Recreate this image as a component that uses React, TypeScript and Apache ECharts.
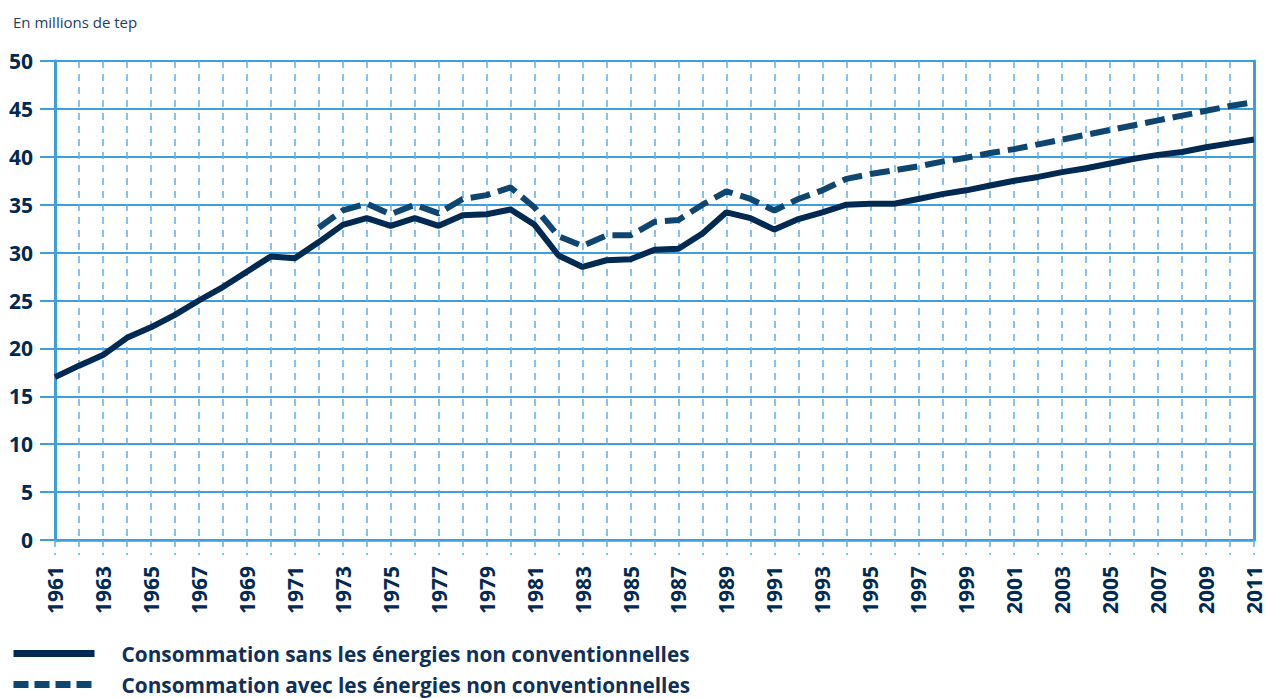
import React, { useEffect, useRef } from "react";
import * as echarts from "echarts";

const years: string[] = [];
for (let y = 1961; y <= 2011; y++) years.push(String(y));

const sansNC: number[] = [
  17.0, 18.2, 19.3, 21.1, 22.2, 23.5, 25.0, 26.4, 28.0, 29.6,
  29.4, 31.1, 32.9, 33.6, 32.8, 33.6, 32.8, 33.9, 34.0, 34.5,
  32.9, 29.7, 28.5, 29.2, 29.3, 30.3, 30.4, 32.0, 34.2, 33.6,
  32.4, 33.5, 34.2, 35.0, 35.1, 35.1, 35.6, 36.1, 36.5, 37.0,
  37.5, 37.9, 38.4, 38.8, 39.3, 39.8, 40.2, 40.5, 41.0, 41.4,
  41.8,
];

const avecNC: (number | null)[] = [
  null, null, null, null, null, null, null, null, null, null,
  null, 32.6, 34.4, 35.1, 34.0, 35.0, 34.1, 35.6, 36.0, 36.8,
  34.7, 31.7, 30.7, 31.8, 31.8, 33.2, 33.4, 35.0, 36.4, 35.6,
  34.4, 35.6, 36.5, 37.7, 38.2, 38.6, 39.0, 39.5, 39.9, 40.4,
  40.8, 41.3, 41.8, 42.3, 42.8, 43.3, 43.8, 44.3, 44.8, 45.3,
  45.7,
];

const seriesNames = [
  "Consommation sans les énergies non conventionnelles",
  "Consommation avec les énergies non conventionnelles",
];

const unitLabel = "En millions de tep";

const NAVY = "#002a52";
const DASHNAVY = "#0f4670";
const GRID = "#3d9ee0";
const VGRID = "#5eb0e6";
const FONT = "'Open Sans', 'Liberation Sans', sans-serif";

const legendBase = {
  orient: "horizontal",
  left: 10,
  padding: 0,
  itemWidth: 81,
  itemHeight: 14,
  itemStyle: { opacity: 0 },
  textStyle: {
    fontSize: 20.8,
    fontWeight: "bold",
    color: "#0f3057",
    fontFamily: FONT,
    padding: [0, 0, 0, 22],
  },
};

export default function App() {
  const ref = useRef<HTMLDivElement>(null);
  useEffect(() => {
    if (!ref.current) return;
    const chart = echarts.init(ref.current, null, { renderer: "svg" });
    chart.setOption({
      animation: false,
      title: {
        text: unitLabel,
        left: 8,
        top: 9,
        textStyle: {
          fontSize: 15,
          fontWeight: "normal",
          color: "#1f3d5f",
          fontFamily: "'Liberation Sans Narrow', 'Open Sans', sans-serif",
        },
      },
      grid: { left: 55, right: 12, top: 61, bottom: 158, containLabel: false },
      legend: [
        {
          ...legendBase,
          top: 643,
          data: [{ name: seriesNames[0], lineStyle: { width: 7, color: NAVY, type: "solid" } }],
        },
        {
          ...legendBase,
          top: 674,
          data: [{ name: seriesNames[1], lineStyle: { width: 7, color: DASHNAVY, type: [15, 6] } }],
        },
      ],
      xAxis: {
        type: "category",
        data: years,
        boundaryGap: false,
        axisLine: { show: true, lineStyle: { color: GRID, width: 2.5 } },
        axisTick: {
          show: true,
          interval: 0,
          length: 15,
          lineStyle: { color: VGRID, width: 1.5, type: [7, 6] },
        },
        axisLabel: {
          interval: 1,
          rotate: 90,
          margin: 26,
          fontSize: 21,
          fontWeight: "bold",
          color: NAVY,
          fontFamily: FONT,
        },
        splitLine: {
          show: true,
          interval: 0,
          lineStyle: { color: VGRID, width: 1.5, type: [7, 6] },
        },
      },
      yAxis: [
        {
          type: "value",
          min: 0,
          max: 50,
          interval: 5,
          axisLine: { show: true, lineStyle: { color: GRID, width: 3 } },
          axisTick: { show: true, length: 15, lineStyle: { color: GRID, width: 2 } },
          axisLabel: { margin: 22, fontSize: 21, fontWeight: "bold", color: NAVY, fontFamily: FONT },
          splitLine: { show: true, lineStyle: { color: GRID, width: 2 } },
        },
        {
          type: "value",
          min: 0,
          max: 50,
          interval: 5,
          position: "right",
          axisLine: { show: true, lineStyle: { color: GRID, width: 3 } },
          axisTick: { show: false },
          axisLabel: { show: false },
          splitLine: { show: false },
        },
      ],
      series: [
        {
          name: seriesNames[0],
          type: "line",
          data: sansNC,
          symbol: "none",
          lineStyle: { color: NAVY, width: 6 },
          itemStyle: { color: NAVY },
          z: 4,
        },
        {
          name: seriesNames[1],
          type: "line",
          data: avecNC,
          symbol: "none",
          connectNulls: false,
          lineStyle: { color: DASHNAVY, width: 6, type: [20, 8] },
          itemStyle: { color: DASHNAVY },
          z: 3,
        },
      ],
    });
    return () => chart.dispose();
  }, []);
  return (
    <div
      ref={ref}
      style={{ position: "absolute", left: 0, top: 0, width: 1266, height: 698 }}
    />
  );
}
